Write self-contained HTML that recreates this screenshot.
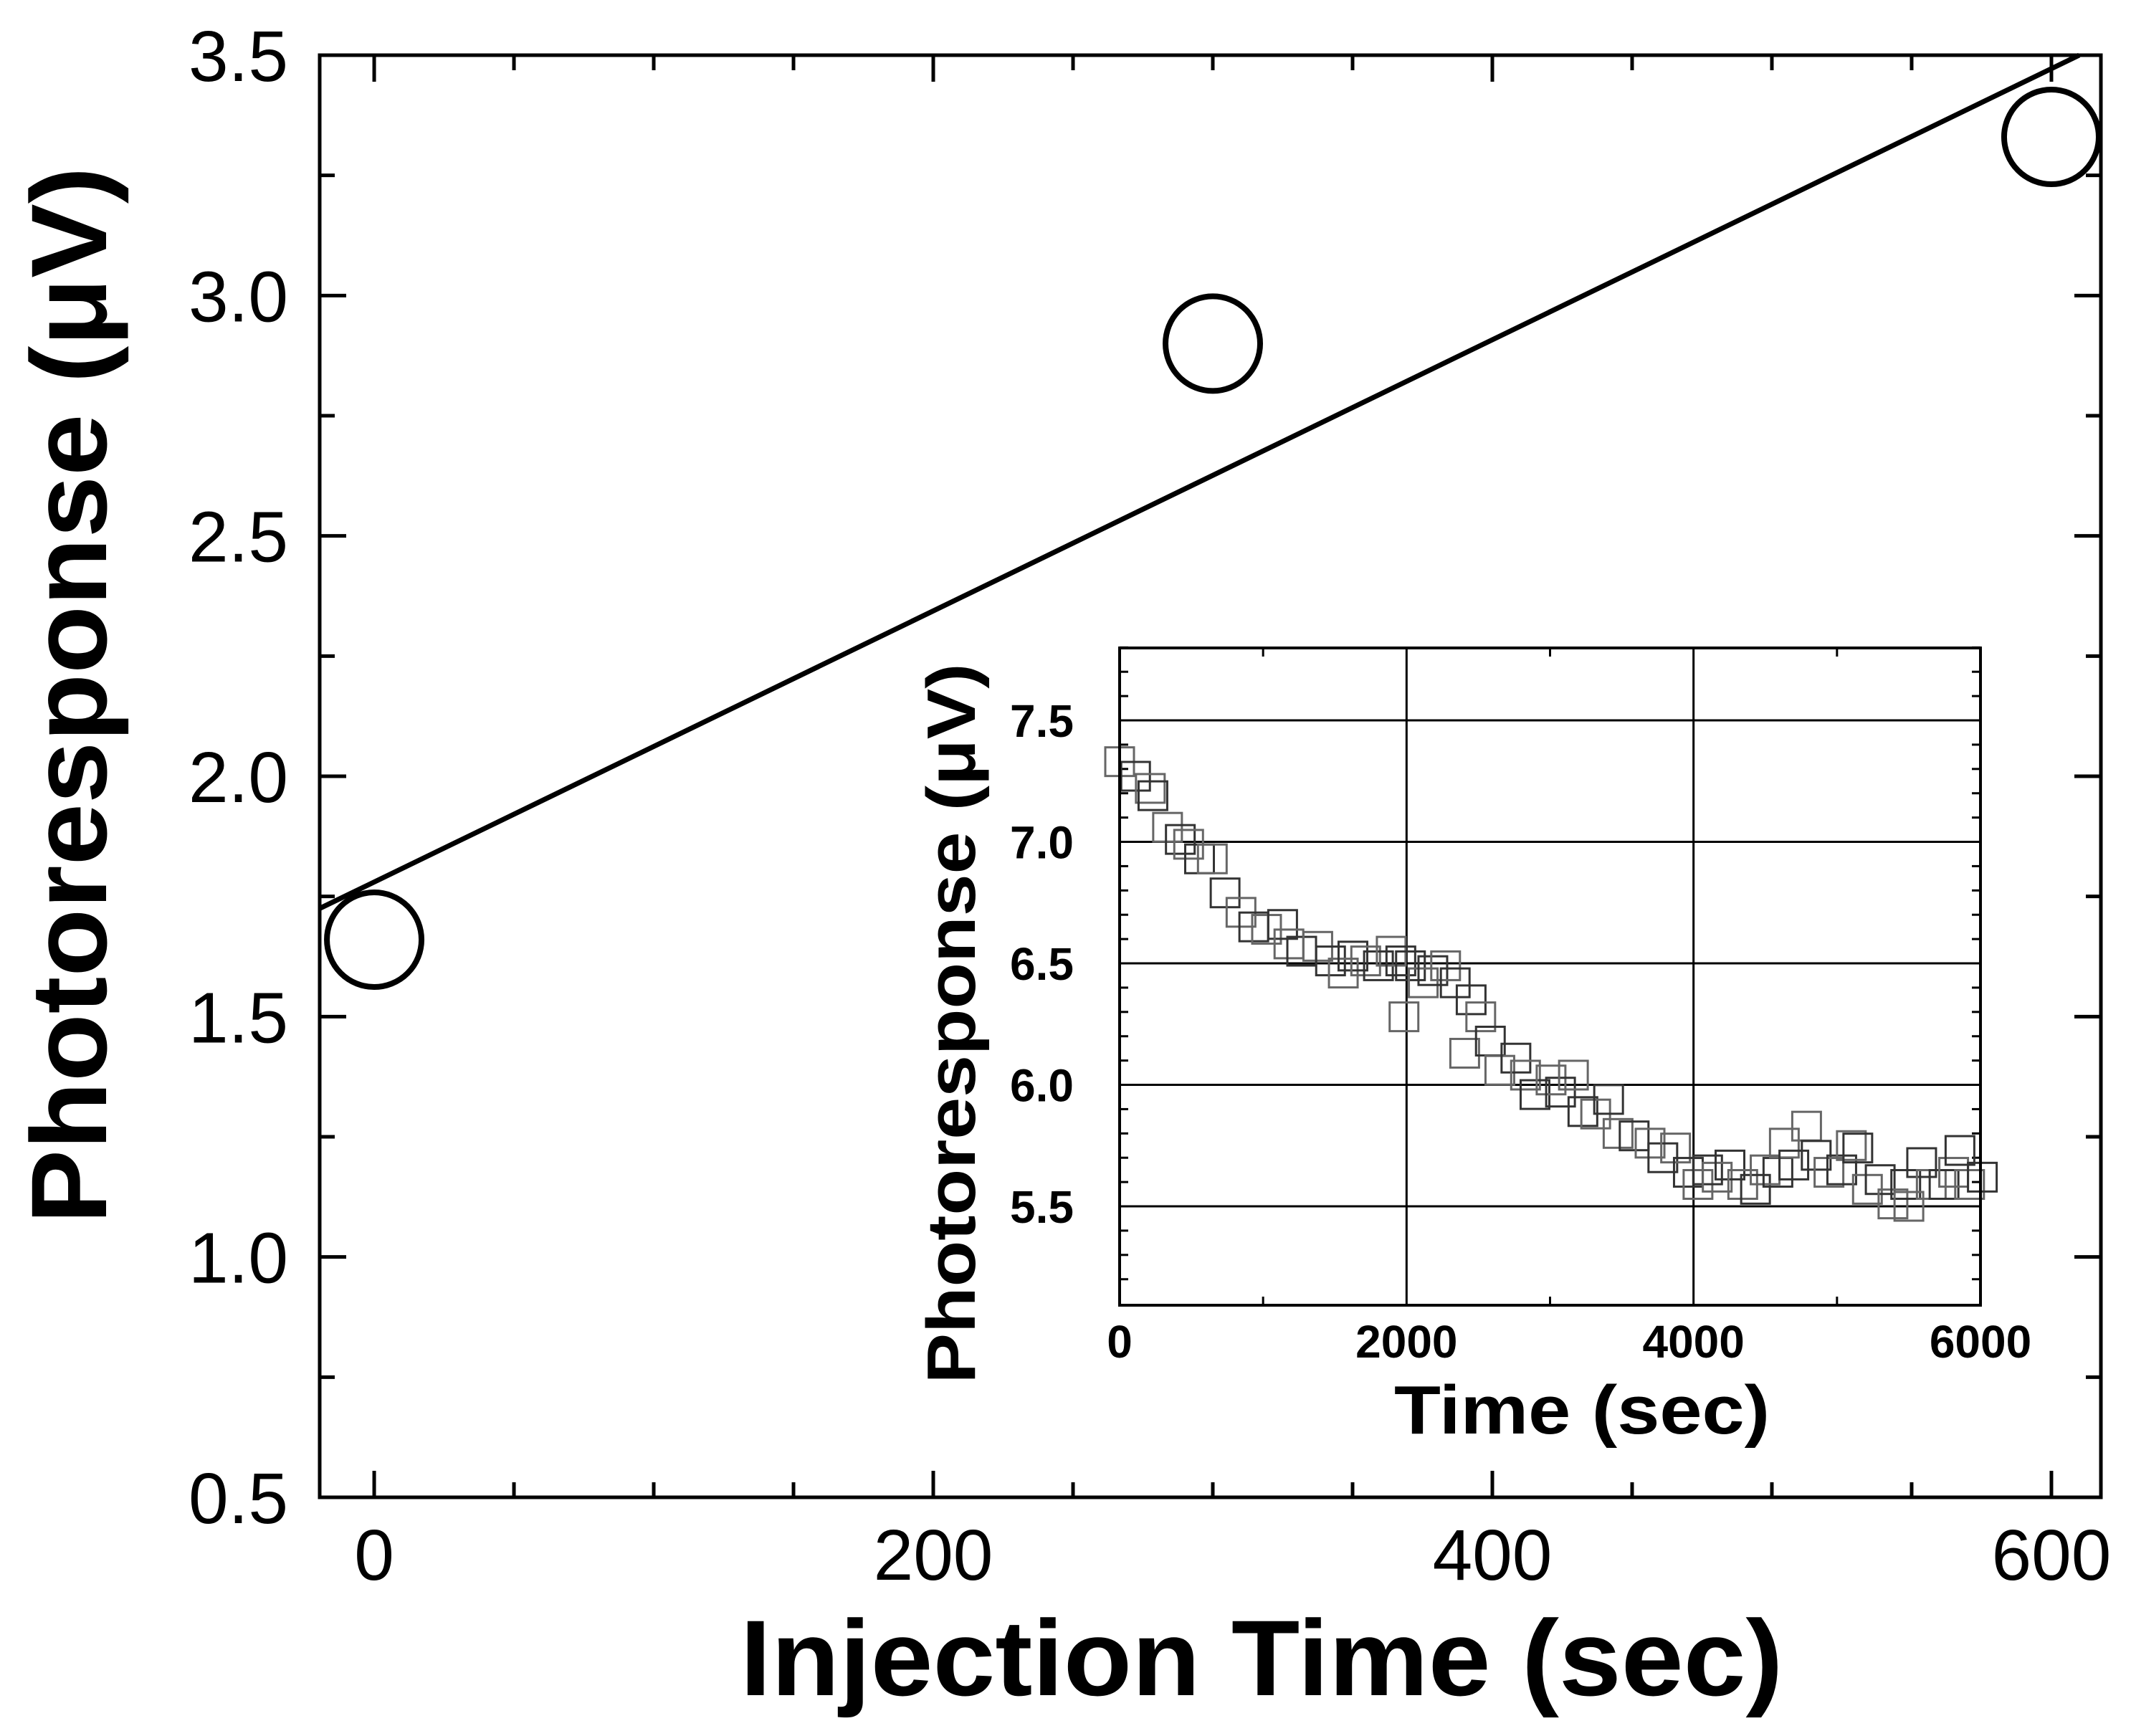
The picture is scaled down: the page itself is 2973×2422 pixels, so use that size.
<!DOCTYPE html>
<html><head><meta charset="utf-8"><style>
html,body{margin:0;padding:0;background:#fff}
svg{display:block}
text{font-family:"Liberation Sans",Arial,sans-serif;fill:#000}
</style></head><body>
<svg id="chart" width="2973" height="2422" viewBox="0 0 2973 2422" xmlns="http://www.w3.org/2000/svg">
<g id="main"></g>
<g id="inset"></g>
</svg>
<script>
const mainX = [0, 300, 600];
const mainY = [1.66, 2.90, 3.33];
const fitIntercept = 1.78;
const fitSlope = 0.00282;
const mainXTicks = [0, 200, 400, 600];
const mainYTicks = [0.5, 1.0, 1.5, 2.0, 2.5, 3.0, 3.5];
const mainYTickLabels = ["0.5","1.0","1.5","2.0","2.5","3.0","3.5"];

const insetX = [0,111,214,232,334,423,481,557,646,735,846,935,1024,1136,1180,1269,1381,1470,1559,1626,1715,1804,1893,1960,1982,2027,2116,2183,2272,2339,2405,2450,2517,2584,2650,2762,2829,2895,3007,3073,3163,3229,3318,3408,3474,3586,3697,3786,3875,3964,4031,4098,4165,4254,4343,4432,4499,4588,4633,4699,4788,4855,4944,5033,5100,5145,5212,5301,5390,5479,5501,5590,5657,5746,5813,5857,5924,6013];
const insetY = [7.33,7.27,7.22,7.19,7.06,7.01,6.99,6.93,6.93,6.79,6.71,6.65,6.64,6.66,6.58,6.55,6.57,6.51,6.46,6.53,6.51,6.49,6.55,6.51,6.28,6.49,6.42,6.47,6.49,6.42,6.13,6.35,6.28,6.18,6.06,6.11,6.04,5.96,6.02,5.97,6.04,5.89,5.88,5.94,5.80,5.79,5.76,5.70,5.74,5.64,5.59,5.65,5.62,5.67,5.59,5.57,5.65,5.64,5.76,5.67,5.83,5.71,5.64,5.65,5.75,5.74,5.57,5.61,5.51,5.59,5.50,5.68,5.59,5.59,5.64,5.73,5.59,5.62];
const insetXTicks = [0, 2000, 4000, 6000];
const insetYTicks = [5.5, 6.0, 6.5, 7.0, 7.5];
const insetYTickLabels = ["5.5","6.0","6.5","7.0","7.5"];

const NS = "http://www.w3.org/2000/svg";
function mk(parent, tag, attrs, txt){
  const e = document.createElementNS(NS, tag);
  for (const k in attrs) e.setAttribute(k, attrs[k]);
  if (txt !== undefined) e.textContent = txt;
  parent.appendChild(e); return e;
}

// ---- main plot ----
const M = {l:446, r:2931, t:77, b:2089, x0:-19.5, x1:617.7, y0:0.5, y1:3.5};
const mx = v => M.l + (v - M.x0) / (M.x1 - M.x0) * (M.r - M.l);
const my = v => M.b - (v - M.y0) / (M.y1 - M.y0) * (M.b - M.t);
const g = document.getElementById('main');

for (let v = 0; v <= 600; v += 50) {
  const major = v % 200 === 0; const L = major ? 37 : 21;
  const t1 = mk(g,'line',{x1:mx(v),x2:mx(v),y1:M.b,y2:M.b-L,stroke:'#000','stroke-width':5});
  
  
  const t2 = mk(g,'line',{x1:mx(v),x2:mx(v),y1:M.t,y2:M.t+L,stroke:'#000','stroke-width':5});
  
  
}
for (let i = 0; i <= 12; i++) {
  const v = 0.5 + i*0.25; const major = i % 2 === 0; const L = major ? 37 : 21;
  const t1 = mk(g,'line',{x1:M.l,x2:M.l+L,y1:my(v),y2:my(v),stroke:'#000','stroke-width':5});
  
  
  const t2 = mk(g,'line',{x1:M.r,x2:M.r-L,y1:my(v),y2:my(v),stroke:'#000','stroke-width':5});
  
  
}
mainXTicks.forEach(v => {
  const t = mk(g,'text',{x:mx(v),y:2204,'font-size':100,'text-anchor':'middle'}, String(v));
  
  
});
mainYTicks.forEach((v,i) => {
  const t = mk(g,'text',{x:402,y:my(v)+36,'font-size':100,'text-anchor':'end'}, mainYTickLabels[i]);
  
  
});
const xa = M.x0, xb = (M.y1 - fitIntercept)/fitSlope;
const fit = mk(g,'line',{x1:mx(xa),y1:my(fitIntercept+fitSlope*xa),x2:mx(Math.min(xb,M.x1)),y2:my(fitIntercept+fitSlope*Math.min(xb,M.x1)),stroke:'#000','stroke-width':7});


mainX.forEach((v,i) => {
  const c = mk(g,'circle',{cx:mx(v),cy:my(mainY[i]),r:66,fill:'none',stroke:'#000','stroke-width':8});
  
  
});
const fr = mk(g,'rect',{x:M.l,y:M.t,width:M.r-M.l,height:M.b-M.t,fill:'none',stroke:'#000','stroke-width':5});


const xt = mk(g,'text',{x:1760,y:2365,'font-size':150,'font-weight':'bold','text-anchor':'middle',textLength:1455,lengthAdjust:'spacingAndGlyphs'},'Injection Time (sec)');


const yt = mk(g,'text',{x:0,y:0,'font-size':150,'font-weight':'bold','text-anchor':'middle',textLength:1475,lengthAdjust:'spacingAndGlyphs',transform:'translate(148,970) rotate(-90)'},'Photoresponse (\u03BCV)');



// ---- inset ----
const I = {l:1562, r:2763, t:904, b:1821, x0:0, x1:6000, y0:5.093, y1:7.798};
const ix = v => I.l + (v - I.x0)/(I.x1 - I.x0)*(I.r - I.l);
const iy = v => I.b - (v - I.y0)/(I.y1 - I.y0)*(I.b - I.t);
const h = document.getElementById('inset');
const bg = mk(h,'rect',{x:I.l,y:I.t,width:I.r-I.l,height:I.b-I.t,fill:'#fff'});


insetXTicks.forEach(v => {
  const l = mk(h,'line',{x1:ix(v),x2:ix(v),y1:I.t,y2:I.b,stroke:'#000','stroke-width':3});
  
  
  const t = mk(h,'text',{x:ix(v),y:1894,'font-size':64,'font-weight':'bold','text-anchor':'middle'},String(v));
  
  
});
insetYTicks.forEach((v,i) => {
  const l = mk(h,'line',{x1:I.l,x2:I.r,y1:iy(v),y2:iy(v),stroke:'#000','stroke-width':3});
  
  
  const t = mk(h,'text',{x:1498,y:iy(v)+23,'font-size':64,'font-weight':'bold','text-anchor':'end'},insetYTickLabels[i]);
  
  
});
for (let v = 1000; v < 6000; v += 2000) {
  [I.b, I.t].forEach((yy,k) => {
    const l = mk(h,'line',{x1:ix(v),x2:ix(v),y1:yy,y2:k?yy+12:yy-12,stroke:'#000','stroke-width':3});
    
    
  });
}
for (let i = 52; i <= 78; i++) {
  const v = i/10;
  [I.l, I.r].forEach((xx,k) => {
    const l = mk(h,'line',{x1:xx,x2:k?xx-12:xx+12,y1:iy(v),y2:iy(v),stroke:'#000','stroke-width':3});
    
    
  });
}
insetX.forEach((v,i) => {
  const s = 40;
  const r = mk(h,'rect',{x:ix(v)-s/2,y:iy(insetY[i])-s/2,width:s,height:s,fill:'none',stroke:i%2?'#333':'#666','stroke-width':3});
  
  
});
const ifr = mk(h,'rect',{x:I.l,y:I.t,width:I.r-I.l,height:I.b-I.t,fill:'none',stroke:'#000','stroke-width':4});


const ixt = mk(h,'text',{x:2207,y:2000,'font-size':96,'font-weight':'bold','text-anchor':'middle',textLength:524,lengthAdjust:'spacingAndGlyphs'},'Time (sec)');


const iyt = mk(h,'text',{x:0,y:0,'font-size':96,'font-weight':'bold','text-anchor':'middle',textLength:1005,lengthAdjust:'spacingAndGlyphs',transform:'translate(1360,1428) rotate(-90)'},'Photoresponse (\u03BCV)');


</script>
</body></html>
